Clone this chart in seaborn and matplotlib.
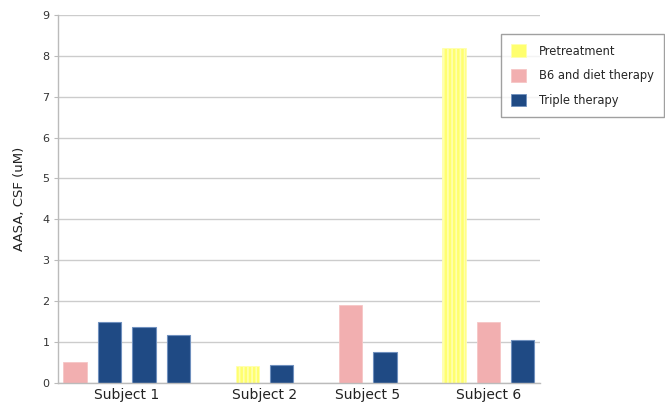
import pandas as pd
import seaborn as sns
import matplotlib.pyplot as plt
from matplotlib.colors import to_rgba
from matplotlib.patches import Patch

subjects = ['Subject 1', 'Subject 2', 'Subject 5', 'Subject 6']
treatments = ['Pretreatment', 'B6 and diet therapy', 'Triple therapy']

# bars of each subject, left to right
subject_1_kind = ['B6 and diet therapy', 'Triple therapy', 'Triple therapy', 'Triple therapy']
subject_1_vals = [0.51, 1.49, 1.37, 1.16]
subject_2_kind = ['Pretreatment', 'Triple therapy']
subject_2_vals = [0.41, 0.43]
subject_5_kind = ['B6 and diet therapy', 'Triple therapy']
subject_5_vals = [1.90, 0.76]
subject_6_kind = ['Pretreatment', 'B6 and diet therapy', 'Triple therapy']
subject_6_vals = [8.20, 1.49, 1.04]

colors = {'Pretreatment': '#FFFF6E',
          'B6 and diet therapy': '#F2AFB0',
          'Triple therapy': '#1F4A84'}
edges = {'Pretreatment': '#FFFFB0',
         'B6 and diet therapy': '#F6C6C6',
         'Triple therapy': '#6F90BE'}


def build_table():
    groups = [(subject_1_kind, subject_1_vals), (subject_2_kind, subject_2_vals),
              (subject_5_kind, subject_5_vals), (subject_6_kind, subject_6_vals)]
    rows = []
    centers = []
    slot = 0
    for kinds, vals in groups:
        start = slot
        for k, v in zip(kinds, vals):
            rows.append({'slot': slot, 'value': v, 'treatment': k})
            slot += 1
        centers.append((start + slot - 1) / 2)
        slot += 1  # empty gap between subjects
    return pd.DataFrame(rows), centers, slot - 1


def main():
    df, centers, n_slots = build_table()
    df['slot'] = df['slot'].astype(str)
    order = [str(i) for i in range(n_slots)]

    sns.set_style('white')
    plt.rcParams['font.family'] = ['DejaVu Sans']
    plt.rcParams['hatch.linewidth'] = 1.2

    fig = plt.figure(figsize=(6.65, 4.05), dpi=100)
    ax = fig.add_axes([0.0872, 0.055, 0.7248, 0.908])
    ax.set_axisbelow(True)
    ax.yaxis.grid(True, color='#CCCCCC', linewidth=1)

    sns.barplot(data=df, x='slot', y='value', hue='treatment', order=order,
                hue_order=treatments, palette=colors, dodge=False, width=0.68,
                saturation=1, legend=False, ax=ax)

    for p in ax.patches:
        fc = p.get_facecolor()
        for t in treatments:
            c = to_rgba(colors[t])
            if all(abs(a - b) < 0.01 for a, b in zip(fc, c)):
                p.set_edgecolor(edges[t])
                if t == 'Pretreatment':
                    p.set_hatch('||||')
                    p.set_linewidth(0.6)
                elif t == 'B6 and diet therapy':
                    p.set_linewidth(0.6)
                else:
                    p.set_linewidth(0.8)

    ax.set_xlim(-0.5, n_slots - 0.5)
    ax.set_ylim(0, 9)
    ax.set_yticks(range(10))
    ax.set_xticks(centers)
    ax.set_xticklabels(subjects, fontsize=10, color='#222222')
    ax.tick_params(axis='x', length=0, pad=4)
    ax.tick_params(axis='y', length=3, color='#BBBBBB', labelsize=8,
                   labelcolor='#333333', pad=3, left=True)
    ax.set_xlabel('')
    ax.set_ylabel('AASA, CSF (uM)', fontsize=9.5, color='#222222', labelpad=12)
    for s in ['top', 'right']:
        ax.spines[s].set_visible(False)
    for s in ['left', 'bottom']:
        ax.spines[s].set_color('#BBBBBB')
        ax.spines[s].set_linewidth(1)

    handles = [Patch(facecolor=colors[t], edgecolor=edges[t], linewidth=0.6)
               for t in treatments]
    leg = fig.legend(handles, treatments, loc='upper left',
                     bbox_to_anchor=(0.753, 0.916), fontsize=8.3,
                     frameon=True, fancybox=False, edgecolor='#888888',
                     handlelength=1.3, handleheight=1.3, handletextpad=1.1,
                     labelspacing=1.0, borderpad=0.9, borderaxespad=0)
    leg.get_frame().set_linewidth(1)

    fig.savefig('out.png', dpi=100)
    plt.close(fig)


if __name__ == '__main__':
    main()
